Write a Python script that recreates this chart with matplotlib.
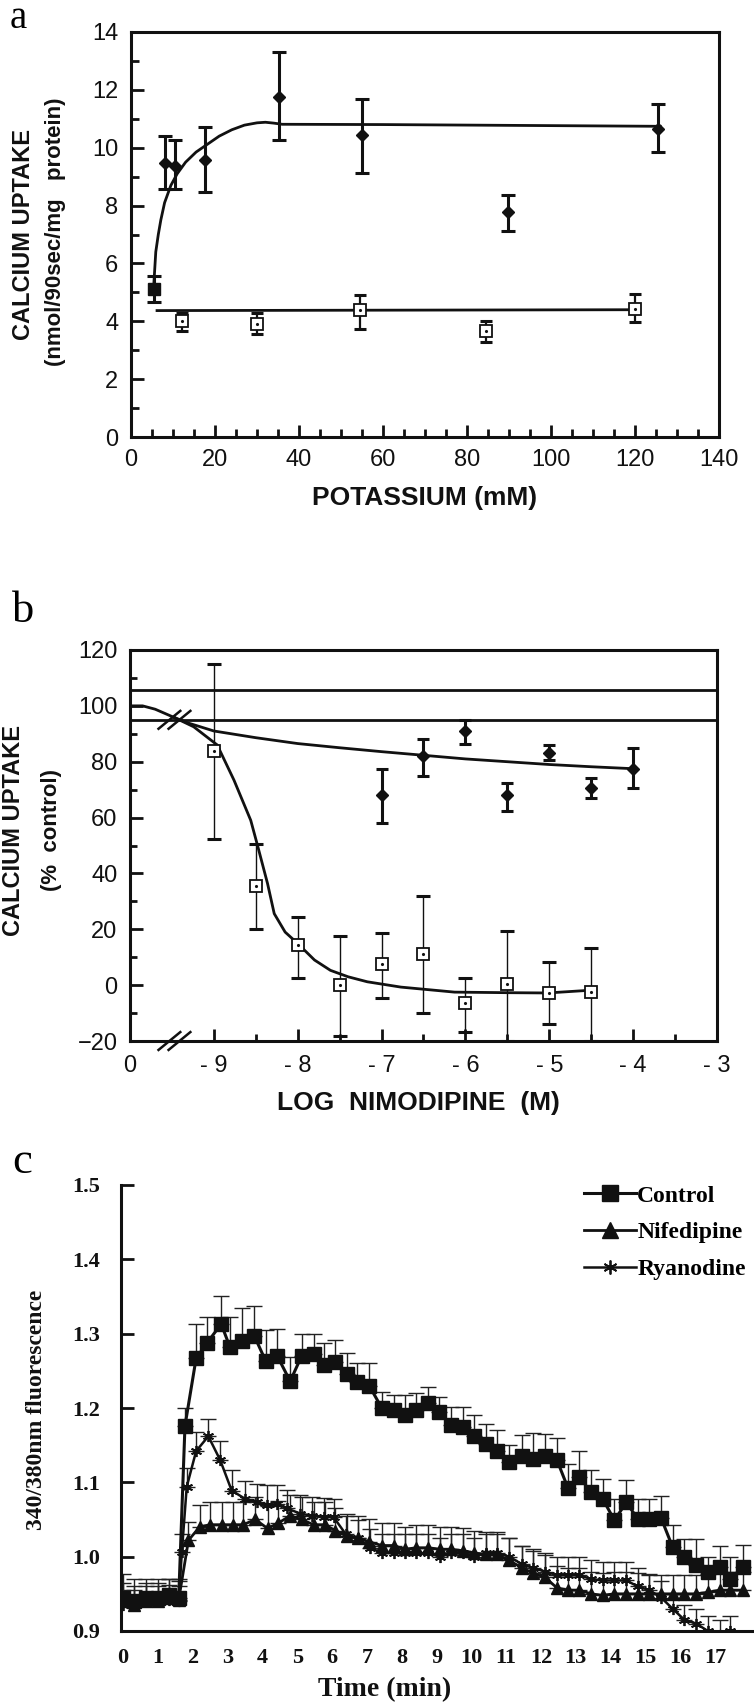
import numpy as np
import matplotlib
matplotlib.use("Agg")
import matplotlib.pyplot as plt
from matplotlib.font_manager import FontProperties

# ---------------- panel a : calcium uptake vs potassium ----------------
k_fill_x = [5.4]
k_fill_y = [5.1]
k_fill_lo = [4.65]
k_fill_hi = [5.55]

k_dia_x = [8.0, 10.5, 17.5, 35.3, 55.0, 89.8, 125.5]
k_dia_y = [9.48, 9.38, 9.56, 11.77, 10.45, 7.77, 10.63]
k_dia_lo = [8.57, 8.57, 8.47, 10.26, 9.12, 7.13, 9.85]
k_dia_hi = [10.42, 10.28, 10.72, 13.30, 11.69, 8.36, 11.52]

k_sq_x = [12.2, 30.0, 54.5, 84.5, 120.0]
k_sq_y = [4.01, 3.92, 4.38, 3.65, 4.44]
k_sq_lo = [3.65, 3.57, 3.75, 3.28, 3.97]
k_sq_hi = [4.30, 4.30, 4.91, 4.00, 4.94]

# fitted curves
fit_a_x = [5.4, 5.9, 6.5, 7.1, 8.0, 9.5, 11.0, 13.0, 15.5, 18.0, 21.0, 24.0,
           27.0, 30.0, 32.0, 34.0, 36.0, 60.0, 126.0]
fit_a_y = [5.2, 6.4, 7.0, 7.5, 8.1, 8.7, 9.1, 9.5, 9.85, 10.1, 10.4, 10.62,
           10.78, 10.86, 10.88, 10.85, 10.81, 10.8, 10.74]
fit_a2_x = [6.2, 121.0]
fit_a2_y = [4.37, 4.40]

# ---------------- panel b : log nimodipine ----------------
nim_sq_x = [-9, -8.5, -8, -7.5, -7, -6.5, -6, -5.5, -5, -4.5]
nim_sq_y = [84, 35.5, 14.5, 0, 7.5, 11, -6.5, 0.5, -2.8, -2.5]
nim_sq_lo = [52.5, 20, 2.6, -18.3, -4.7, -10, -16.6, -20, -13.8, -20]
nim_sq_hi = [115, 50.5, 24.4, 17.5, 18.6, 32, 2.5, 19.5, 8.3, 13.3]

nim_dia_x = [-7, -6.5, -6, -5.5, -5, -4.5, -4]
nim_dia_y = [68, 82, 91, 68, 83, 70.5, 77.5]
nim_dia_lo = [58, 75, 86.5, 62.5, 80.5, 67, 70.5]
nim_dia_hi = [77.5, 88, 95, 72.5, 86, 74, 85]

fit_b0_x = [-10.0, -9.85, -9.7, -9.6, -9.47]
fit_b0_y = [100.0, 100.0, 98.8, 97.5, 95.8]
fit_b1_x = [-9.47, -9.3, -9.0, -8.5, -8.0, -7.5, -7.0, -6.5, -6.0, -5.5, -5.0, -4.5, -4.0]
fit_b1_y = [95.8, 93.8, 91.0, 88.6, 86.5, 85.0, 83.6, 82.3, 81.0, 80.0, 79.0, 78.2, 77.5]
fit_b2_x = [-9.47, -9.24, -8.96, -8.76, -8.56, -8.48, -8.36, -8.28, -8.15, -8.0,
            -7.8, -7.61, -7.4, -7.17, -6.77, -6.13, -5.5, -5.02, -4.55]
fit_b2_y = [95.8, 92.5, 86.0, 73.4, 59.0, 50.1, 36.4, 25.6, 19.0, 14.9,
            9.0, 5.3, 3.0, 1.2, -0.7, -2.5, -2.7, -2.8, -1.9]
ref_lines = [105.5, 95.0]
break_x = -9.47

# ---------------- panel c : fluorescence time course ----------------
ctrl_t = [0.0, 0.33, 0.67, 1.0, 1.33, 1.6, 1.78, 2.1, 2.42, 2.82, 3.07, 3.41, 3.77,
          4.1, 4.43, 4.8, 5.13, 5.47, 5.76, 6.09, 6.43, 6.73, 7.07, 7.43, 7.77, 8.1,
          8.42, 8.77, 9.06, 9.41, 9.75, 10.09, 10.42, 10.74, 11.09, 11.45, 11.76,
          12.12, 12.46, 12.77, 13.1, 13.44, 13.77, 14.11, 14.45, 14.78, 15.11,
          15.45, 15.78, 16.12, 16.46, 16.79, 17.13, 17.44, 17.8]
ctrl_v = [0.945, 0.94, 0.945, 0.945, 0.948, 0.945, 1.176, 1.267, 1.288, 1.313, 1.282,
          1.29, 1.297, 1.263, 1.27, 1.236, 1.27, 1.272, 1.258, 1.262, 1.246, 1.235,
          1.23, 1.2, 1.197, 1.19, 1.197, 1.207, 1.195, 1.177, 1.174, 1.163, 1.152,
          1.142, 1.128, 1.135, 1.132, 1.136, 1.13, 1.093, 1.107, 1.087, 1.078, 1.049,
          1.073, 1.051, 1.05, 1.052, 1.013, 0.999, 0.989, 0.98, 0.986, 0.97, 0.986]
ctrl_top = [0.977, 0.97, 0.97, 0.97, 0.97, 0.97, 1.2, 1.313, 1.323, 1.351, 1.323,
            1.335, 1.337, 1.305, 1.306, 1.268, 1.299, 1.299, 1.287, 1.291, 1.274,
            1.261, 1.261, 1.222, 1.218, 1.218, 1.22, 1.228, 1.215, 1.201, 1.201,
            1.19, 1.179, 1.17, 1.15, 1.164, 1.166, 1.165, 1.16, 1.124, 1.142, 1.116,
            1.104, 1.078, 1.103, 1.078, 1.078, 1.082, 1.042, 1.024, 1.024, 1.0,
            1.015, 0.999, 1.016]

nif_t = [0.0, 0.33, 0.67, 1.0, 1.33, 1.6, 1.88, 2.2, 2.5, 2.85, 3.15, 3.45, 3.8,
         4.15, 4.45, 4.8, 5.13, 5.47, 5.8, 6.1, 6.43, 6.75, 7.07, 7.43, 7.77, 8.1,
         8.42, 8.77, 9.1, 9.41, 9.75, 10.09, 10.42, 10.74, 11.09, 11.45, 11.76,
         12.12, 12.46, 12.77, 13.1, 13.44, 13.77, 14.11, 14.45, 14.78, 15.11,
         15.45, 15.78, 16.12, 16.46, 16.79, 17.13, 17.44, 17.8]
nif_v = [0.94, 0.935, 0.94, 0.94, 0.945, 0.942, 1.022, 1.04, 1.043, 1.043, 1.043,
         1.043, 1.05, 1.038, 1.045, 1.055, 1.05, 1.043, 1.043, 1.035, 1.028, 1.025,
         1.02, 1.015, 1.015, 1.01, 1.012, 1.012, 1.01, 1.01, 1.008, 1.005, 1.003,
         1.003, 0.995, 0.985, 0.978, 0.972, 0.958, 0.955, 0.955, 0.95, 0.948, 0.95,
         0.95, 0.95, 0.95, 0.95, 0.95, 0.95, 0.95, 0.952, 0.955, 0.955, 0.955]
nif_err = [0.025, 0.025, 0.025, 0.025, 0.025, 0.025, 0.025, 0.03, 0.03, 0.03, 0.03,
           0.03, 0.03, 0.03, 0.03, 0.028, 0.03, 0.03, 0.03, 0.03, 0.03, 0.03, 0.03,
           0.03, 0.03, 0.03, 0.03, 0.03, 0.03, 0.03, 0.03, 0.03, 0.03, 0.03, 0.03,
           0.03, 0.03, 0.03, 0.03, 0.03, 0.03, 0.03, 0.03, 0.03, 0.03, 0.028, 0.025,
           0.025, 0.025, 0.025, 0.025, 0.025, 0.025, 0.025, 0.025]

rya_t = [0.0, 0.33, 0.67, 1.0, 1.33, 1.6, 1.69, 1.83, 2.1, 2.45, 2.79, 3.12, 3.5,
         3.84, 4.13, 4.42, 4.7, 5.09, 5.42, 5.76, 6.05, 6.4, 6.75, 7.1, 7.43, 7.77,
         8.1, 8.42, 8.77, 9.1, 9.41, 9.75, 10.09, 10.42, 10.74, 11.09, 11.45, 11.76,
         12.12, 12.46, 12.77, 13.1, 13.44, 13.77, 14.11, 14.45, 14.78, 15.11, 15.45,
         15.78, 16.12, 16.46, 16.79, 17.13, 17.44]
rya_v = [0.935, 0.935, 0.94, 0.94, 0.942, 0.94, 1.006, 1.094, 1.142, 1.162, 1.13,
         1.089, 1.078, 1.073, 1.069, 1.071, 1.065, 1.058, 1.055, 1.054, 1.053, 1.03,
         1.025, 1.012, 1.005, 1.005, 1.005, 1.005, 1.005, 1.0, 1.005, 1.005, 1.0,
         1.005, 1.005, 1.0, 0.99, 0.985, 0.98, 0.975, 0.975, 0.975, 0.97, 0.968,
         0.968, 0.968, 0.96, 0.955, 0.945, 0.93, 0.915, 0.91, 0.9, 0.895, 0.9]
rya_err = [0.02, 0.02, 0.02, 0.02, 0.02, 0.02, 0.025, 0.025, 0.026, 0.023, 0.026,
           0.028, 0.024, 0.025, 0.027, 0.025, 0.025, 0.025, 0.025, 0.025, 0.025,
           0.025, 0.025, 0.025, 0.025, 0.025, 0.025, 0.025, 0.025, 0.025, 0.025,
           0.025, 0.025, 0.025, 0.025, 0.025, 0.025, 0.025, 0.025, 0.025, 0.025,
           0.025, 0.025, 0.025, 0.025, 0.025, 0.025, 0.022, 0.022, 0.02, 0.02,
           0.02, 0.02, 0.02, 0.02]

W, H = 754, 1704
fig = plt.figure(figsize=(W / 100, H / 100), dpi=100)


def px_rect(l, t, r, b):
    return [l / W, 1 - b / H, (r - l) / W, (b - t) / H]


def ftext(x, y, s, **kw):
    fig.text(x / W, 1 - y / H, s, **kw)


sans_narrow = ["Liberation Sans Narrow", "Liberation Sans", "DejaVu Sans"]
sans = ["Liberation Sans", "DejaVu Sans"]
serif = ["Liberation Serif", "DejaVu Serif"]

# ================= panel a =================
axa = fig.add_axes(px_rect(131, 32, 719, 437))
axa.errorbar(k_dia_x, k_dia_y,
             yerr=[np.subtract(k_dia_y, k_dia_lo), np.subtract(k_dia_hi, k_dia_y)],
             fmt="none", ecolor="#111", elinewidth=2.2, capsize=5, capthick=2.2)
axa.errorbar(k_sq_x, k_sq_y,
             yerr=[np.subtract(k_sq_y, k_sq_lo), np.subtract(k_sq_hi, k_sq_y)],
             fmt="none", ecolor="#111", elinewidth=1.6, capsize=4.5, capthick=2.2)
axa.errorbar(k_fill_x, k_fill_y,
             yerr=[np.subtract(k_fill_y, k_fill_lo), np.subtract(k_fill_hi, k_fill_y)],
             fmt="none", ecolor="#111", elinewidth=2.2, capsize=5, capthick=2.2)
axa.plot(fit_a_x, fit_a_y, color="#111", lw=2.0, zorder=3)
axa.plot(fit_a2_x, fit_a2_y, color="#111", lw=2.0, zorder=3)
axa.plot(k_dia_x, k_dia_y, "D", color="#111", ms=6.2, zorder=4)
axa.plot(k_fill_x, k_fill_y, "s", color="#111", ms=8, zorder=4)
axa.plot(k_sq_x, k_sq_y, "s", mfc="white", mec="#111", mew=1.3, ms=9, zorder=4)
axa.plot(k_sq_x, k_sq_y, ".", color="#111", ms=2.5, zorder=5)

axa.set_xlim(0, 140)
axa.set_ylim(0, 14)
axa.set_xticks(range(0, 141, 20))
axa.set_xticks(range(0, 141, 5), minor=True)
axa.set_yticks(range(0, 15, 2))
axa.set_yticks(range(1, 14, 2), minor=True)
axa.tick_params(which="both", direction="in", width=2, colors="#111",
                labelfontfamily=sans_narrow, labelsize=17)
axa.tick_params(which="major", length=9)
axa.tick_params(which="minor", length=6)
axa.tick_params(axis="x", pad=9)
axa.tick_params(axis="y", pad=9)
for sp in axa.spines.values():
    sp.set_linewidth(2.2)
    sp.set_color("#111")

ftext(10, 28, "a", fontsize=28, family=serif, va="baseline")
ftext(425, 498, "POTASSIUM (mM)", fontsize=19, fontweight="bold", family=sans,
      ha="center", va="center", color="#111")
ftext(24, 234, "CALCIUM UPTAKE", fontsize=17, fontweight="bold", family=sans,
      rotation=90, ha="center", va="center", color="#111")
ftext(56, 232, "(nmol/90sec/mg   protein)", fontsize=16, fontweight="bold",
      family=sans, rotation=90, ha="center", va="center", color="#111")

# ================= panel b =================
axb = fig.add_axes(px_rect(130, 650, 717, 1041))
for yl in ref_lines:
    axb.axhline(yl, color="#111", lw=2.0)
axb.errorbar(nim_sq_x, nim_sq_y,
             yerr=[np.subtract(nim_sq_y, nim_sq_lo), np.subtract(nim_sq_hi, nim_sq_y)],
             fmt="none", ecolor="#111", elinewidth=1.0, capsize=5, capthick=2.2)
axb.errorbar(nim_dia_x, nim_dia_y,
             yerr=[np.subtract(nim_dia_y, nim_dia_lo), np.subtract(nim_dia_hi, nim_dia_y)],
             fmt="none", ecolor="#111", elinewidth=2.2, capsize=4.5, capthick=2.2)
axb.plot(fit_b0_x, fit_b0_y, color="#111", lw=2.0)
axb.plot(fit_b1_x, fit_b1_y, color="#111", lw=2.0)
axb.plot(fit_b2_x, fit_b2_y, color="#111", lw=2.0)
axb.plot(nim_dia_x, nim_dia_y, "D", color="#111", ms=6, zorder=4)
axb.plot(nim_sq_x, nim_sq_y, "s", mfc="white", mec="#111", mew=1.3, ms=9, zorder=4)
axb.plot(nim_sq_x, nim_sq_y, ".", color="#111", ms=2.5, zorder=5)

# axis break marks "//"
for dx in (-0.06, 0.06):
    axb.plot([break_x + dx - 0.13, break_x + dx + 0.13], [ref_lines[1] - 3.2, ref_lines[1] + 3.2],
             color="#111", lw=1.8, clip_on=False, zorder=6)
    axb.plot([break_x + dx - 0.13, break_x + dx + 0.13], [-20 - 3.2, -20 + 3.2],
             color="#111", lw=1.8, clip_on=False, zorder=6)

axb.set_xlim(-10, -3)
axb.set_ylim(-20, 120)
axb.set_xticks([-10, -9, -8, -7, -6, -5, -4, -3])
axb.set_xticklabels(["0", "- 9", "- 8", "- 7", "- 6", "- 5", "- 4", "- 3"])
axb.set_xticks([-8.5, -7.5, -6.5, -5.5, -4.5, -3.5], minor=True)
axb.set_yticks(range(-20, 121, 20))
axb.set_yticks(range(-10, 120, 20), minor=True)
axb.tick_params(which="both", direction="in", width=2, colors="#111",
                labelfontfamily=sans_narrow, labelsize=17)
axb.tick_params(which="major", length=9)
axb.tick_params(which="minor", length=5)
axb.tick_params(axis="x", pad=10)
axb.tick_params(axis="y", pad=9)
for sp in axb.spines.values():
    sp.set_linewidth(2.2)
    sp.set_color("#111")

ftext(12, 622, "b", fontsize=32, family=serif, va="baseline")
ftext(418, 1103, "LOG  NIMODIPINE  (M)", fontsize=19, fontweight="bold", family=sans,
      ha="center", va="center", color="#111")
ftext(14, 830, "CALCIUM UPTAKE", fontsize=17, fontweight="bold", family=sans,
      rotation=90, ha="center", va="center", color="#111")
ftext(52, 830, "(%  control)", fontsize=16, fontweight="bold", family=sans,
      rotation=90, ha="center", va="center", color="#111")

# ================= panel c =================
axc = fig.add_axes(px_rect(121, 1185, 752, 1631))
for t, v, top in ((nif_t, nif_v, np.add(nif_v, nif_err)),
                  (rya_t, rya_v, np.add(rya_v, rya_err)),
                  (ctrl_t, ctrl_v, ctrl_top)):
    axc.errorbar(t, v, yerr=[np.zeros(len(v)), np.subtract(top, v)], fmt="none",
                 ecolor="#222", elinewidth=1.0, capsize=6, capthick=1.0, zorder=2)
l_nif, = axc.plot(nif_t, nif_v, "-^", color="#111", lw=2.0, ms=9, zorder=3)
l_rya, = axc.plot(rya_t, rya_v, "-", marker=(6, 2, 0), color="#111", lw=1.8,
                  ms=8, mew=1.3, zorder=3)
l_ctrl, = axc.plot(ctrl_t, ctrl_v, "-s", color="#111", lw=2.2, ms=9.5, zorder=4)

axc.set_xlim(-0.057, 18.06)
axc.set_ylim(0.9, 1.5)
axc.set_xticks(range(0, 18))
axc.set_yticks([0.9, 1.0, 1.1, 1.2, 1.3, 1.4, 1.5])
axc.set_yticklabels(["0.9", "1.0", "1.1", "1.2", "1.3", "1.4", "1.5"])
axc.tick_params(axis="y", direction="in", length=9, width=2, pad=15, colors="#111",
                labelfontfamily=serif, labelsize=16)
axc.tick_params(axis="x", length=0, pad=12, colors="#111",
                labelfontfamily=serif, labelsize=16)
for lab in axc.get_xticklabels() + axc.get_yticklabels():
    lab.set_fontweight("bold")
    lab.set_fontsize(16)
axc.spines["top"].set_visible(False)
axc.spines["right"].set_visible(False)
for side in ("left", "bottom"):
    axc.spines[side].set_linewidth(2.2)
    axc.spines[side].set_color("#111")

axc.legend([l_ctrl, l_nif, l_rya], ["Control", "Nifedipine", "Ryanodine"],
           loc="upper left", bbox_to_anchor=(584 / W, 1 - 1185 / H),
           bbox_transform=fig.transFigure, frameon=False,
           prop=FontProperties(family=serif, weight="bold", size=17),
           handlelength=2.2, handletextpad=0.05, labelspacing=0.65,
           borderpad=0, borderaxespad=0, markerscale=1.25)

ftext(12, 1173, "c", fontsize=32, family=serif, va="baseline")
ftext(385, 1690, "Time (min)", fontsize=20, fontweight="bold", family=serif,
      ha="center", va="center", color="#111")
ftext(37, 1410, "340/380nm fluorescence", fontsize=17, fontweight="bold",
      family=serif, rotation=90, ha="center", va="center", color="#111")

fig.savefig("out.png", dpi=100)
